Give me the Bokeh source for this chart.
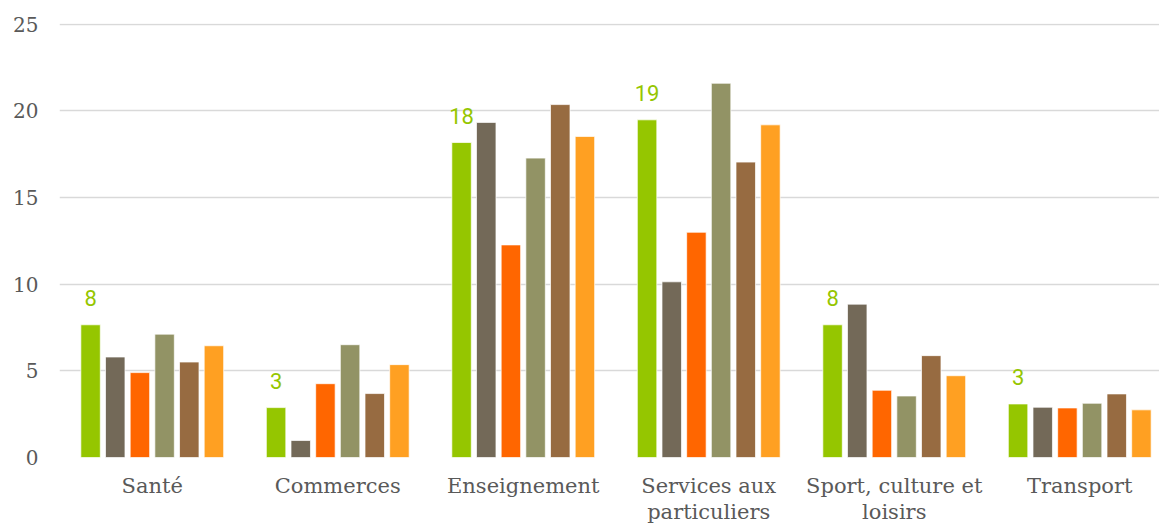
import numpy as np
from bokeh.plotting import figure
from bokeh.models import Range1d, FixedTicker
from bokeh.core.properties import value
from bokeh.embed import file_html
from bokeh.resources import INLINE

categories = ["Santé", "Commerces", "Enseignement", "Services aux\nparticuliers",
              "Sport, culture et\nloisirs", "Transport"]
series_1 = [7.66, 2.88, 18.18, 19.49, 7.66, 3.09]
series_2 = [5.80, 0.98, 19.34, 10.14, 8.85, 2.90]
series_3 = [4.90, 4.26, 12.27, 13.00, 3.88, 2.86]
series_4 = [7.12, 6.51, 17.28, 21.60, 3.55, 3.13]
series_5 = [5.51, 3.69, 20.37, 17.05, 5.88, 3.67]
series_6 = [6.45, 5.36, 18.53, 19.20, 4.72, 2.75]
y_ticks = [0, 5, 10, 15, 20, 25]

all_series = [series_1, series_2, series_3, series_4, series_5, series_6]
colors = ["#95C600", "#736958", "#FF6600", "#929365", "#976B41", "#FFA022"]

p = figure(width=1159, height=526, output_backend="svg", toolbar_location=None,
           x_range=Range1d(-0.5, 5.43), y_range=Range1d(0, 25.05),
           min_border_left=59, min_border_right=0, min_border_top=23,
           min_border_bottom=68)
p.outline_line_color = None
p.background_fill_color = "white"
p.border_fill_color = "white"

xs = np.arange(len(categories))
step = 0.133
width = 0.105
for i, (s, c) in enumerate(zip(all_series, colors)):
    p.vbar(x=xs + (i - 2.5) * step, top=s, width=width, fill_color=c,
           line_color="white", line_width=1, line_alpha=0.7)

labels = [str(int(round(v))) for v in series_1]
p.text(x=xs - 2.5 * step, y=series_1, text=labels, text_align="center",
       text_baseline="alphabetic", y_offset=-27, text_color="#95C600",
       text_font=value("Roboto"), text_font_size="22px")

p.xgrid.grid_line_color = None
p.ygrid.grid_line_color = "#D9D9D9"
p.ygrid.grid_line_width = 1.5
p.ygrid.ticker = FixedTicker(ticks=y_ticks)

p.yaxis.ticker = FixedTicker(ticks=y_ticks)
p.yaxis.axis_line_color = None
p.yaxis.major_tick_line_color = None
p.yaxis.minor_tick_line_color = None
p.yaxis.major_tick_out = 0
p.yaxis.major_tick_in = 0
p.yaxis.major_label_standoff = 21
p.yaxis.major_label_text_font = "DejaVu Serif"
p.yaxis.major_label_text_font_size = "20px"
p.yaxis.major_label_text_color = "#595959"

p.xaxis.ticker = FixedTicker(ticks=list(xs))
p.xaxis.major_label_overrides = {int(i): c for i, c in zip(xs, categories)}
p.xaxis.axis_line_color = None
p.xaxis.major_tick_line_color = None
p.xaxis.minor_tick_line_color = None
p.xaxis.major_tick_out = 0
p.xaxis.major_tick_in = 0
p.xaxis.major_label_standoff = 16
p.xaxis.major_label_text_font = "DejaVu Serif"
p.xaxis.major_label_text_font_size = "21px"
p.xaxis.major_label_text_line_height = 1.1
p.xaxis.major_label_text_color = "#595959"

open("out.html", "w").write(file_html(p, INLINE))
